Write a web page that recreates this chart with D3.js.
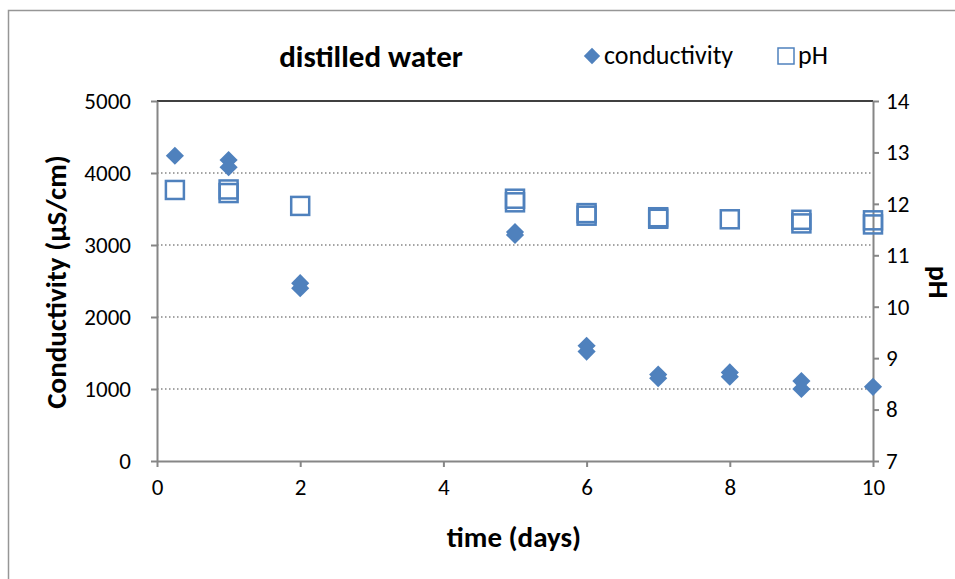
<!DOCTYPE html>
<meta charset="utf-8">
<html>
<head>
  <style>
  body { margin: 0; background: #fff; }
  text { font-family: Carlito, Calibri, Lato, "Open Sans", sans-serif; fill: #000; }
  line.grid { stroke: #868686; stroke-width: 1.5px; stroke-dasharray: 1.5 2.5; }
  </style>
  <script src="https://d3js.org/d3.v7.min.js"></script>
</head>
<body>
  <div id="chart1"></div>
  <script type="text/javascript">
  // Conductivity readings (uS/cm) vs. time (days)
  var condDays  = [0.25, 1, 1, 2, 2, 5, 5, 6, 6, 7, 7, 8, 8, 9, 9, 10];
  var condValue = [4240, 4180, 4080, 2470, 2400, 3180, 3140, 1600, 1520, 1200, 1150, 1230, 1170, 1110, 1000, 1030];

  // pH readings vs. time (days)
  var phDays  = [0.25, 1, 1, 2, 5, 5, 6, 6, 7, 7, 8, 9, 9, 10, 10];
  var phValue = [12.27, 12.28, 12.21, 11.96, 12.1, 12.03, 11.82, 11.77, 11.74, 11.71, 11.7, 11.69, 11.62, 11.68, 11.6];

  var xTicks = [0, 2, 4, 6, 8, 10];
  var yTicks = [0, 1000, 2000, 3000, 4000, 5000];
  var phTicks = [7, 8, 9, 10, 11, 12, 13, 14];

  var W = 955, H = 579;
  var plotL = 157, plotR = 873, plotT = 101, plotB = 461;
  var blue = "#4F81BD";

  var svg = d3.select("#chart1").append("svg")
    .attr("width", W).attr("height", H);

  // chart border
  svg.append("rect")
    .attr("x", 8.5).attr("y", 10.5).attr("width", 980).attr("height", 620)
    .style("fill", "none").style("stroke", "#969696").style("stroke-width", 1.5);

  var x = d3.scaleLinear().domain([0, 10]).range([plotL, plotR]);
  var y = d3.scaleLinear().domain([0, 5000]).range([plotB, plotT]);
  var yPh = d3.scaleLinear().domain([7, 14]).range([plotB, plotT]);

  // gridlines
  svg.selectAll(".grid")
    .data(yTicks.filter(function(d) { return d > 0 && d < 5000; }))
    .enter().append("line")
    .attr("class", "grid")
    .attr("x1", plotL).attr("x2", plotR)
    .attr("y1", function(d) { return y(d); })
    .attr("y2", function(d) { return y(d); });

  svg.append("line")
    .attr("x1", plotL).attr("x2", plotR)
    .attr("y1", y(5000)).attr("y2", y(5000))
    .style("stroke", "#000").style("stroke-width", 1.5);

  // axes
  svg.append("g").attr("class", "axis")
    .attr("transform", "translate(0," + plotB + ")")
    .call(d3.axisBottom(x).tickValues(xTicks).tickSize(6).tickSizeOuter(0).tickPadding(12));
  svg.append("g").attr("class", "axis")
    .attr("transform", "translate(" + plotL + ",0)")
    .call(d3.axisLeft(y).tickValues(yTicks).tickFormat(d3.format("d")).tickSize(6).tickSizeOuter(0).tickPadding(20));
  svg.append("g").attr("class", "axis")
    .attr("transform", "translate(" + plotR + ",0)")
    .call(d3.axisRight(yPh).tickValues(phTicks).tickFormat(d3.format("d")).tickSize(6).tickSizeOuter(0).tickPadding(7));
  svg.selectAll(".axis path, .axis line").style("stroke", "#868686").style("stroke-width", 2);
  svg.selectAll(".axis .tick text")
    .style("font-family", "Carlito, Calibri, Lato, sans-serif")
    .style("font-size", "23px")
    .style("fill", "#000");

  // conductivity diamonds
  var diamond = d3.symbol().type(d3.symbolDiamond2).size(210);
  svg.selectAll(".cond")
    .data(condValue)
    .enter().append("path")
    .attr("class", "cond")
    .attr("d", diamond)
    .attr("transform", function(d, i) { return "translate(" + x(condDays[i]) + "," + y(d) + ")"; })
    .style("fill", blue);

  // pH squares
  svg.selectAll(".ph")
    .data(phValue)
    .enter().append("rect")
    .attr("class", "ph")
    .attr("x", function(d, i) { return x(phDays[i]) - 9; })
    .attr("y", function(d) { return yPh(d) - 9; })
    .attr("width", 18).attr("height", 18)
    .style("fill", "none").style("stroke", blue).style("stroke-width", 2.5);

  // titles
  svg.append("text")
    .attr("x", 371).attr("y", 67)
    .attr("text-anchor", "middle")
    .style("font-size", "31px").style("font-weight", "bold")
    .text("distilled water");

  svg.append("text")
    .attr("x", 514).attr("y", 547)
    .attr("text-anchor", "middle")
    .style("font-size", "29px").style("font-weight", "bold")
    .text("time (days)");

  svg.append("text")
    .attr("transform", "translate(66," + 282 + ") rotate(-90)")
    .attr("text-anchor", "middle")
    .style("font-size", "29px").style("font-weight", "bold")
    .text("Conductivity (µS/cm)");

  svg.append("text")
    .attr("transform", "translate(929," + 282 + ") rotate(90)")
    .attr("text-anchor", "middle")
    .style("font-size", "28px").style("font-weight", "bold")
    .text("pH");

  // legend
  svg.append("path")
    .attr("d", d3.symbol().type(d3.symbolDiamond2).size(170))
    .attr("transform", "translate(592,56)")
    .style("fill", blue);
  svg.append("text")
    .attr("x", 604).attr("y", 64)
    .style("font-size", "26px")
    .text("conductivity");
  svg.append("rect")
    .attr("x", 778).attr("y", 48).attr("width", 16).attr("height", 16)
    .style("fill", "none").style("stroke", blue).style("stroke-width", 1.5);
  svg.append("text")
    .attr("x", 798).attr("y", 64)
    .style("font-size", "26px")
    .text("pH");
  </script>
</body>
</html>
